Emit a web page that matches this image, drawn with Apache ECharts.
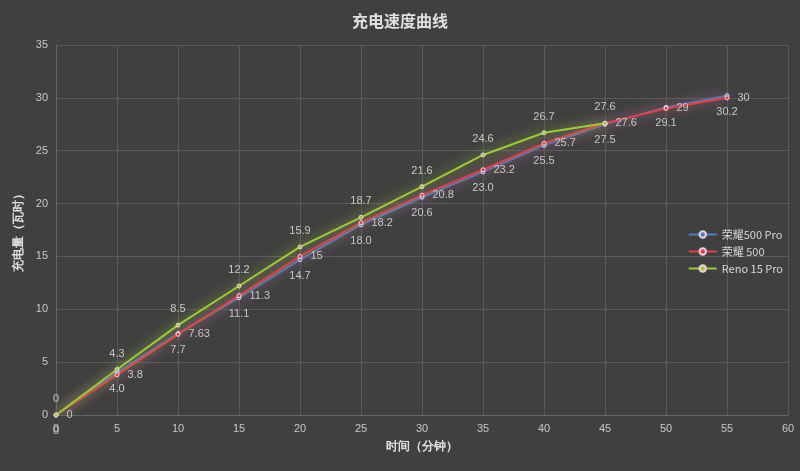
<!DOCTYPE html><html><head><meta charset="utf-8"><script src="https://cdn.jsdelivr.net/npm/echarts@6/dist/echarts.min.js"></script></head><body style="margin:0;background:#404040"><div id="c" style="width:800px;height:471px"></div><script>
const times=[0,5,10,15,20,25,30,35,40,45,50,55];
const pro500=[0,4.0,7.7,11.1,14.7,18.0,20.6,23.0,25.5,27.5,29.1,30.2];
const r500=[0,3.8,7.63,11.3,15,18.2,20.8,23.2,25.7,27.6,29,30];
const reno=[0,4.3,8.5,12.2,15.9,18.7,21.6,24.6,26.7,27.6];
const names=['荣耀500 Pro','荣耀 500','Reno 15 Pro'];
const colors=['#4f81bd','#d9434a','#9bcb3c'];
const pos=['bottom','right','top'];
const labelFmt=[v=>v.value[1]===0?'0':v.value[1].toFixed(1),v=>String(v.value[1]),v=>String(v.value[1])];
const sets=[pro500,r500,reno];
const ch=echarts.init(document.getElementById('c'));
ch.setOption({backgroundColor:'#404040',
title:{text:'充电速度曲线',left:'center',top:8,textStyle:{color:'#e0e0e0',fontSize:16,fontWeight:'bold',fontFamily:'Noto Sans CJK SC'}},
legend:{orient:'vertical',right:12,top:224,itemWidth:28,itemHeight:8,itemGap:6,textStyle:{color:'#d8d8d8',fontSize:11,fontFamily:'Noto Sans CJK SC'}},
grid:{left:56,right:12,top:45,bottom:56},
xAxis:{type:'value',min:0,max:60,interval:5,name:'时间（分钟）',nameLocation:'middle',nameGap:26,nameTextStyle:{color:'#e0e0e0',fontWeight:'bold',fontSize:12},axisLine:{lineStyle:{color:'#666'}},axisTick:{show:false},axisLabel:{color:'#c8c8c8',fontSize:11},splitLine:{lineStyle:{color:'#5a5a5a'}}},
yAxis:{type:'value',min:0,max:35,interval:5,name:'充电量（瓦时）',nameLocation:'middle',nameGap:30,nameTextStyle:{color:'#e0e0e0',fontWeight:'bold',fontSize:12},axisLine:{show:true,lineStyle:{color:'#666'}},axisTick:{show:false},axisLabel:{color:'#c8c8c8',fontSize:11},splitLine:{lineStyle:{color:'#5a5a5a'}}},
series:sets.map((d,i)=>({name:names[i],type:'line',data:d.map((v,j)=>[times[j],v]),symbol:'circle',symbolSize:4,
itemStyle:{color:colors[i],borderColor:'#f0d0e0',borderWidth:1},
lineStyle:{color:colors[i],width:2,shadowColor:colors[i],shadowBlur:12},
label:{show:true,position:pos[i],distance:8,color:'#c8c8c8',fontSize:11,formatter:labelFmt[i]}}))
});
</script></body></html>
